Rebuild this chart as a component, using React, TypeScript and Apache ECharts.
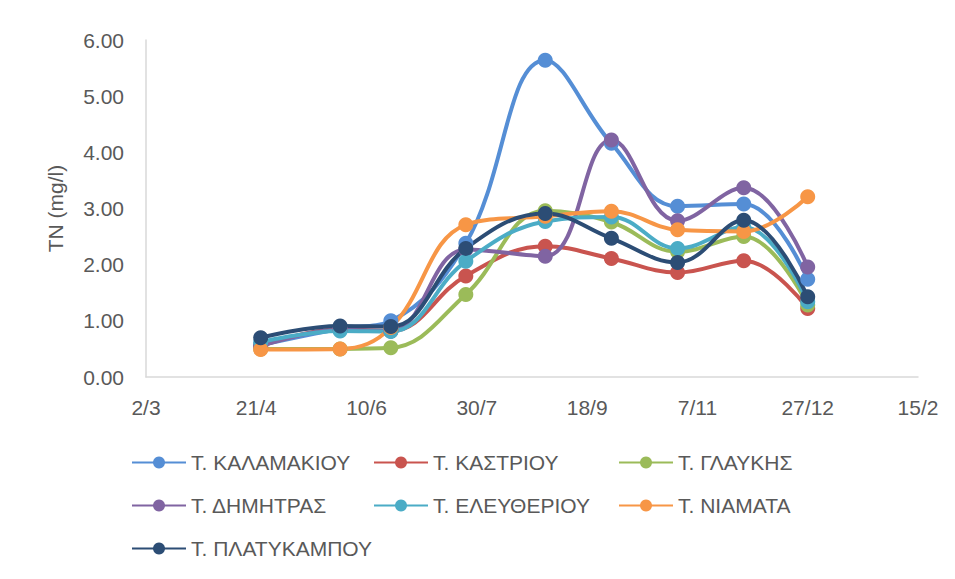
import React, { useEffect, useRef } from "react";
import * as echarts from "echarts";

const BASE_DATE = "2018-03-02";
const sampleDates = [
  "2018-04-23",
  "2018-05-29",
  "2018-06-21",
  "2018-07-25",
  "2018-08-30",
  "2018-09-29",
  "2018-10-29",
  "2018-11-28",
  "2018-12-27",
];

const seriesNames = [
  "Τ. ΚΑΛΑΜΑΚΙΟΥ",
  "Τ. ΚΑΣΤΡΙΟΥ",
  "Τ. ΓΛΑΥΚΗΣ",
  "Τ. ΔΗΜΗΤΡΑΣ",
  "Τ. ΕΛΕΥΘΕΡΙΟΥ",
  "Τ. ΝΙΑΜΑΤΑ",
  "Τ. ΠΛΑΤΥΚΑΜΠΟΥ",
];

const kalamakiou = [0.57, 0.86, 1.0, 2.38, 5.64, 4.16, 3.04, 3.08, 1.74];
const kastriou = [0.55, 0.85, 0.82, 1.8, 2.33, 2.11, 1.86, 2.07, 1.22];
const glaykis = [0.5, 0.5, 0.52, 1.47, 2.96, 2.76, 2.23, 2.5, 1.28];
const dimitras = [0.55, 0.84, 0.82, 2.27, 2.15, 4.22, 2.78, 3.37, 1.96];
const eleftheriou = [0.62, 0.82, 0.81, 2.06, 2.77, 2.85, 2.29, 2.67, 1.34];
const niamata = [0.49, 0.5, 0.88, 2.71, 2.86, 2.95, 2.62, 2.59, 3.21];
const platykampou = [0.7, 0.91, 0.9, 2.29, 2.91, 2.47, 2.04, 2.79, 1.43];

const seriesValues = [kalamakiou, kastriou, glaykis, dimitras, eleftheriou, niamata, platykampou];
const colors = ["#558ED5", "#C9544F", "#9BBB59", "#8064A2", "#4BACC6", "#F79646", "#2C4D75"];

const DAY = 86400000;
const baseMs = Date.parse(BASE_DATE + "T00:00:00Z");
const dayOffset = (s: string) => Math.round((Date.parse(s + "T00:00:00Z") - baseMs) / DAY);

const FONT = "'Liberation Sans', Arial, sans-serif";
const TEXT = "#595959";
const FS = 21;

export default function App() {
  const ref = useRef<HTMLDivElement>(null);
  useEffect(() => {
    if (!ref.current) return;
    const chart = echarts.init(ref.current, null, { renderer: "svg" });
    const xs = sampleDates.map(dayOffset);
    const legendText = { fontSize: FS, color: TEXT, fontFamily: FONT };
    const legendCommon = {
      orient: "vertical" as const,
      top: 452,
      padding: 0,
      itemWidth: 54,
      itemHeight: 15,
      itemGap: 22,
      textStyle: legendText,
    };
    chart.setOption({
      animation: false,
      backgroundColor: "#ffffff",
      color: colors,
      grid: { left: 146, right: 37, top: 40, bottom: 202, containLabel: false },
      xAxis: {
        type: "value",
        min: 0,
        max: 350,
        interval: 50,
        axisLine: { show: true, lineStyle: { color: "#d9d9d9", width: 1.5 } },
        axisTick: { show: false },
        splitLine: { show: false },
        axisLabel: {
          margin: 20,
          fontSize: FS,
          color: TEXT,
          fontFamily: FONT,
          formatter: (v: number) => {
            const d = new Date(baseMs + v * DAY);
            return d.getUTCDate() + "/" + (d.getUTCMonth() + 1);
          },
        },
      },
      yAxis: {
        type: "value",
        min: 0,
        max: 6,
        interval: 1,
        name: "TN (mg/l)",
        nameLocation: "middle",
        nameGap: 80,
        nameTextStyle: { fontSize: FS, color: TEXT, fontFamily: FONT },
        axisLine: { show: true, lineStyle: { color: "#d9d9d9", width: 1.5 } },
        axisTick: { show: false },
        splitLine: { show: false },
        axisLabel: {
          margin: 22,
          fontSize: FS,
          color: TEXT,
          fontFamily: FONT,
          formatter: (v: number) => v.toFixed(2),
        },
      },
      legend: [
        { ...legendCommon, left: 131, data: [seriesNames[0], seriesNames[3], seriesNames[6]] },
        { ...legendCommon, left: 373, data: [seriesNames[1], seriesNames[4]] },
        { ...legendCommon, left: 618, data: [seriesNames[2], seriesNames[5]] },
      ],
      series: seriesNames.map((name, i) => ({
        name,
        type: "line",
        smooth: 0.4,
        symbol: "circle",
        symbolSize: 15,
        lineStyle: { width: 4, color: colors[i] },
        itemStyle: { color: colors[i] },
        data: xs.map((x, j) => [x, seriesValues[i][j]]),
      })),
    });
    return () => chart.dispose();
  }, []);
  return (
    <div
      ref={ref}
      style={{ position: "absolute", left: 0, top: 0, width: 955, height: 579 }}
    />
  );
}
